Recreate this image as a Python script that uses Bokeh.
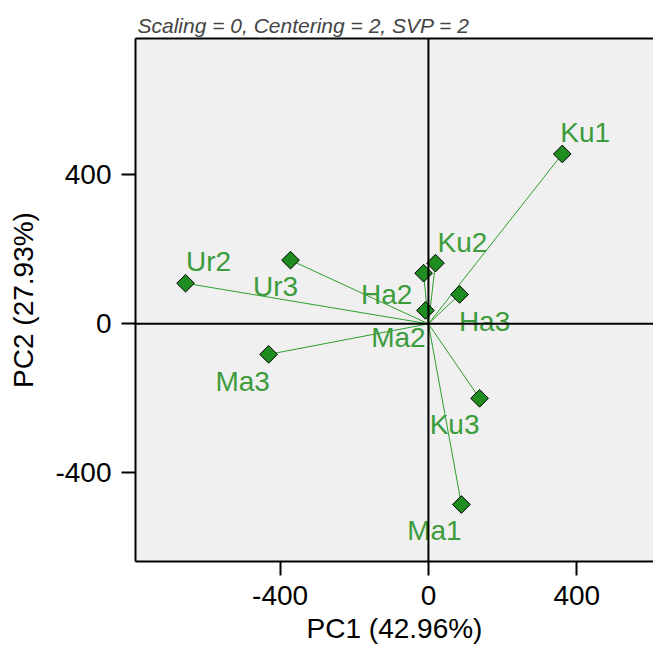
import numpy as np
from bokeh.plotting import figure
from bokeh.models import (Span, LinearAxis, FixedTicker, ColumnDataSource, Range1d,
                          CustomJSTickFormatter)
from bokeh.core.properties import value
from bokeh.embed import file_html
from bokeh.resources import INLINE

# ---- data ----
names = ["Ku1", "Ku2", "Ha2", "Ma2", "Ha3", "Ku3", "Ma1", "Ur2", "Ur3", "Ma3"]
pc1 = [361, 19, -13, -8, 84, 138, 89, -655, -372, -431]
pc2 = [456, 163, 136, 36, 79, -200, -485, 109, 171, -82]
ticks = [-400, 0, 400]
title_text = "Scaling = 0, Centering = 2, SVP = 2"
x_label = "PC1 (42.96%)"
y_label = "PC2 (27.93%)"

# label placement offsets in screen pixels (style)
label_dx = [23, 27, -37, -27, 25, -25, -27, 23, -15, -26]
label_dy = [-21, -21, 21, 27, 27, 26, 26, -22, 26, 27]

FONT = "Liberation Sans"

src = ColumnDataSource(dict(
    x=pc1, y=pc2, name=names,
    x0=np.zeros(len(pc1)), y0=np.zeros(len(pc2)),
    dx=label_dx, dy=label_dy,
))

p = figure(width=653, height=653,
           x_range=Range1d(-790, 607), y_range=Range1d(-638, 766),
           output_backend="svg", toolbar_location=None,
           min_border_left=135, min_border_right=0,
           min_border_top=38, min_border_bottom=92,
           background_fill_color="#f0f0f0", border_fill_color="white",
           x_axis_label=x_label, y_axis_label=y_label)
p.outline_line_color = None
p.grid.visible = False

p.title.text = title_text
p.title.text_font = FONT
p.title.text_font_style = "italic"
p.title.text_font_size = "21px"
p.title.align = "left"
p.title.offset = 2
p.title.standoff = 3

top_axis = LinearAxis(ticker=FixedTicker(ticks=[]))
top_axis.major_label_text_font_size = "0px"
top_axis.axis_line_width = 2
top_axis.axis_line_color = "black"
top_axis.major_tick_out = 0
top_axis.major_tick_in = 0
top_axis.minor_tick_out = 0
top_axis.minor_tick_in = 0
top_axis.major_label_standoff = 0
p.add_layout(top_axis, "above")

fmt = CustomJSTickFormatter(code="return tick.toFixed(0);")

for ax in list(p.xaxis) + list(p.yaxis):
    if ax is top_axis:
        continue
    ax.ticker = FixedTicker(ticks=ticks)
    ax.formatter = fmt
    ax.axis_line_width = 2
    ax.axis_line_color = "black"
    ax.major_tick_out = 14
    ax.major_tick_in = 0
    ax.minor_tick_out = 0
    ax.minor_tick_in = 0
    ax.major_tick_line_width = 2
    ax.major_tick_line_color = "black"
    ax.major_label_text_font = FONT
    ax.major_label_text_font_size = "28px"
    ax.major_label_text_color = "black"
    ax.major_label_standoff = 10
    ax.axis_label_text_font = FONT
    ax.axis_label_text_font_size = "28px"
    ax.axis_label_text_font_style = "normal"
    ax.axis_label_text_color = "black"

p.xaxis[0].axis_label_standoff = 3
p.yaxis[0].axis_label_standoff = 13

p.add_layout(Span(location=0, dimension="height", line_color="black", line_width=2))
p.add_layout(Span(location=0, dimension="width", line_color="black", line_width=2))

p.segment(x0="x0", y0="y0", x1="x", y1="y", source=src,
          line_color="#2ca02c", line_width=1)
p.scatter("x", "y", source=src, marker="square", angle=np.pi / 4, size=12.5,
          fill_color="#1e8c1e", line_color="black", line_width=1)
p.text("x", "y", text="name", source=src, x_offset="dx", y_offset="dy",
       text_align="center", text_baseline="middle",
       text_font=value(FONT), text_font_size="28px", text_color="#3c9c3c")

open("out.html", "w").write(file_html(p, INLINE))
